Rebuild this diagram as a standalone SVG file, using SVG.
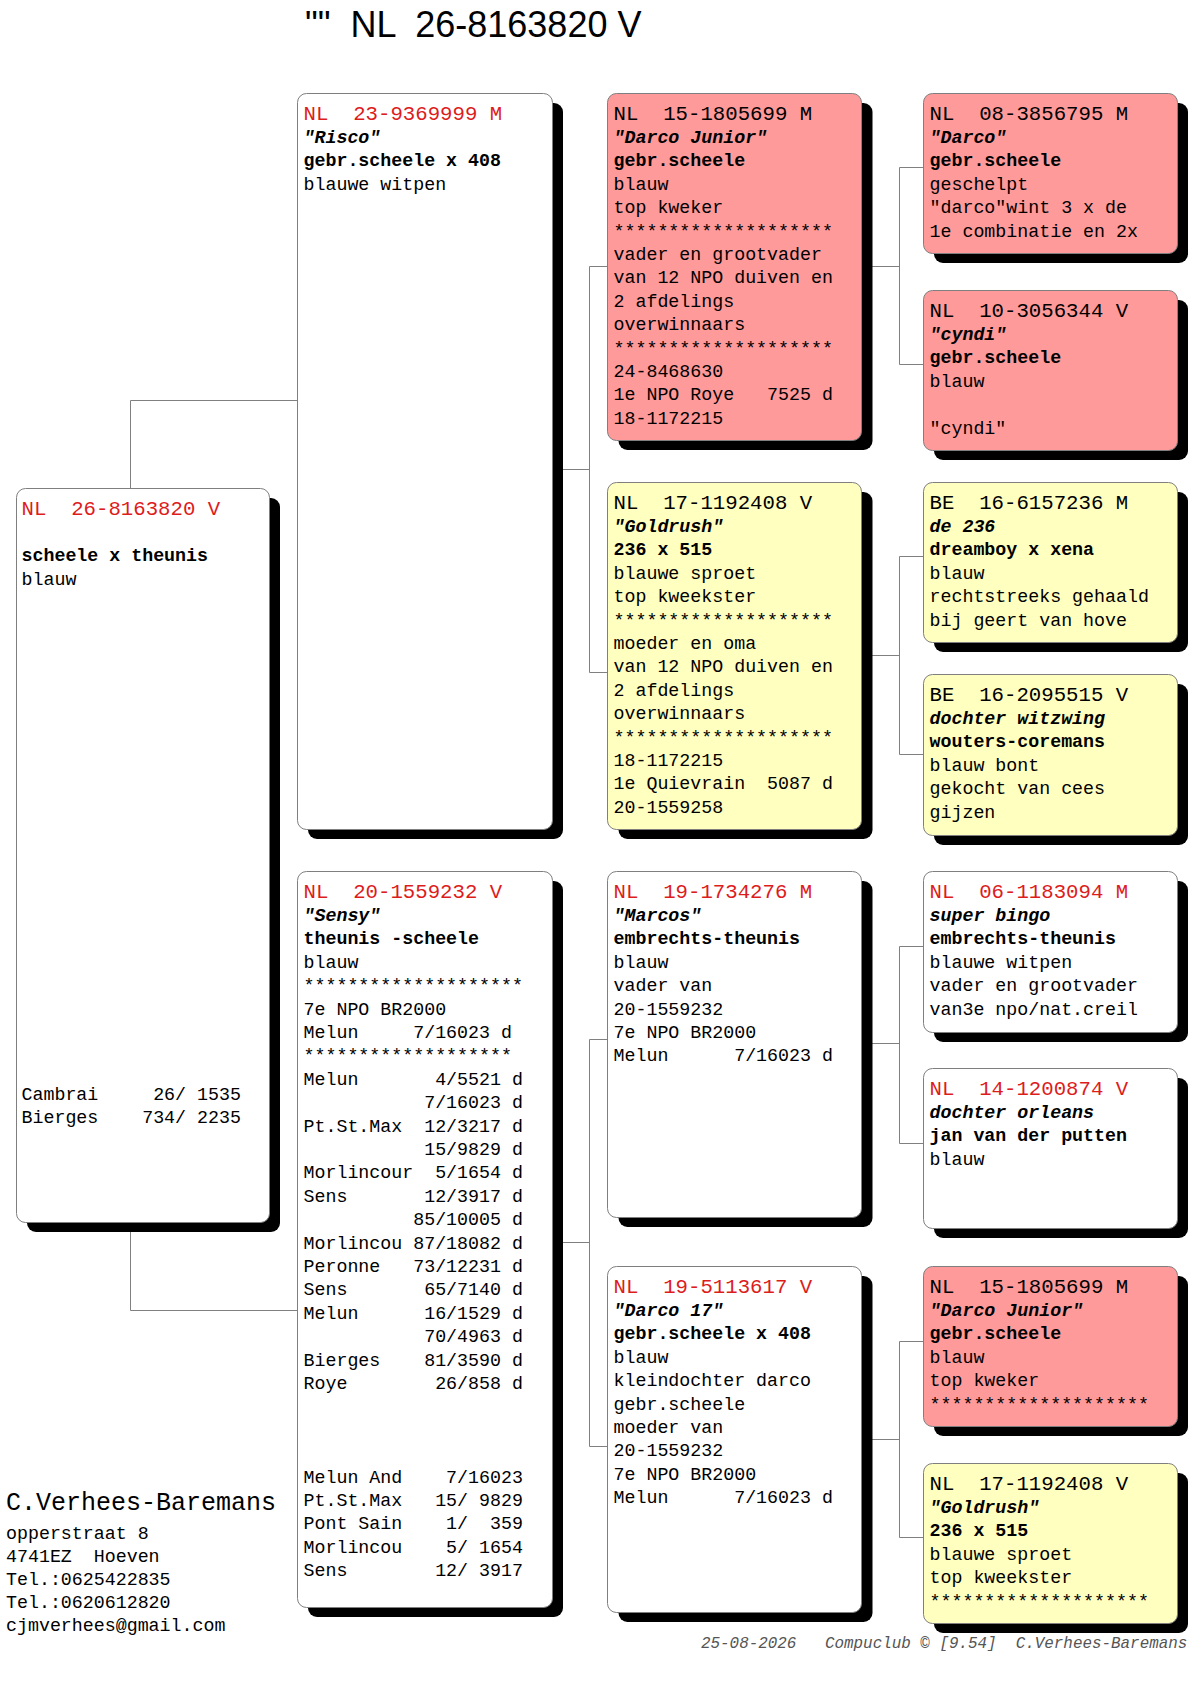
<svg xmlns="http://www.w3.org/2000/svg" width="1190" height="1683" viewBox="0 0 1190 1683">
<style>
.sh{fill:#000}
.bx{stroke:#7f7f7f;stroke-width:1}
.pk{fill:#FF9A9A}
.ye{fill:#FFFFBF}
.wh{fill:#FFFFFF}
text{font-family:"Liberation Mono","DejaVu Sans Mono",monospace;font-size:18.3px;fill:#000;white-space:pre}
.h{font-size:20.7px}
.r{fill:#DD1C1C}
.b{font-weight:bold}
.n{font-weight:bold;font-style:italic}
.con path{stroke:#808080;stroke-width:1;fill:none}
.title{font-family:"Liberation Sans",Arial,sans-serif;font-size:36px}
.ft{font-size:15.9px;font-style:italic;fill:#555}
.big{font-size:25px}
</style>
<rect width="1190" height="1683" fill="#fff"/>
<text class="title" x="305" y="37">""  NL  26-8163820 V</text>

<g class="con" id="connectors">
<path d="M130.5,400.5 V1310.5 M130.5,400.5 H297 M130.5,1310.5 H297"/>
<path d="M552,469.5 H589.5 M589.5,266.5 V672.5 M589.5,266.5 H607.5 M589.5,672.5 H607.5"/>
<path d="M552,1242.5 H589.5 M589.5,1039.5 V1446.5 M589.5,1039.5 H607.5 M589.5,1446.5 H607.5"/>
<path d="M861.5,266.5 H899.5 M899.5,167.5 V364.5 M899.5,167.5 H923 M899.5,364.5 H923"/>
<path d="M861.5,655.5 H899.5 M899.5,556.5 V754.5 M899.5,556.5 H923 M899.5,754.5 H923"/>
<path d="M861.5,1043.5 H899.5 M899.5,946.5 V1143.5 M899.5,946.5 H923 M899.5,1143.5 H923"/>
<path d="M861.5,1439.5 H899.5 M899.5,1341.5 V1537.5 M899.5,1341.5 H923 M899.5,1537.5 H923"/>
</g>

<g id="subject">
<rect class="sh" x="27" y="498" width="253" height="734" rx="9"/>
<rect class="bx wh" x="16.5" y="488.5" width="253" height="734" rx="9"/>
<text class="h r" x="21.5" y="514.5">NL  26-8163820 V</text>
<text class="b" x="21.5" y="561.3">scheele x theunis</text>
<text x="21.5" y="584.7">blauw</text>
<text x="21.5" y="1099.5">Cambrai     26/ 1535</text>
<text x="21.5" y="1122.9">Bierges    734/ 2235</text>
</g>

<g id="risco">
<rect class="sh" x="308" y="103" width="255" height="736" rx="9"/>
<rect class="bx wh" x="297.5" y="93.5" width="255" height="736" rx="9"/>
<text class="h r" x="303.5" y="119.5">NL  23-9369999 M</text>
<text class="n" x="303.5" y="142.9">"Risco"</text>
<text class="b" x="303.5" y="166.3">gebr.scheele x 408</text>
<text x="303.5" y="189.7">blauwe witpen</text>
</g>

<g id="sensy">
<rect class="sh" x="308" y="881" width="255" height="736" rx="9"/>
<rect class="bx wh" x="297.5" y="871.5" width="255" height="736" rx="9"/>
<text class="h r" x="303.5" y="897.5">NL  20-1559232 V</text>
<text class="n" x="303.5" y="920.9">"Sensy"</text>
<text class="b" x="303.5" y="944.3">theunis -scheele</text>
<text x="303.5" y="967.7">blauw</text>
<text x="303.5" y="991.1">********************</text>
<text x="303.5" y="1014.5">7e NPO BR2000</text>
<text x="303.5" y="1037.9">Melun     7/16023 d</text>
<text x="303.5" y="1061.3">*******************</text>
<text x="303.5" y="1084.7">Melun       4/5521 d</text>
<text x="303.5" y="1108.1">           7/16023 d</text>
<text x="303.5" y="1131.5">Pt.St.Max  12/3217 d</text>
<text x="303.5" y="1154.9">           15/9829 d</text>
<text x="303.5" y="1178.3">Morlincour  5/1654 d</text>
<text x="303.5" y="1201.7">Sens       12/3917 d</text>
<text x="303.5" y="1225.1">          85/10005 d</text>
<text x="303.5" y="1248.5">Morlincou 87/18082 d</text>
<text x="303.5" y="1271.9">Peronne   73/12231 d</text>
<text x="303.5" y="1295.3">Sens       65/7140 d</text>
<text x="303.5" y="1318.7">Melun      16/1529 d</text>
<text x="303.5" y="1342.1">           70/4963 d</text>
<text x="303.5" y="1365.5">Bierges    81/3590 d</text>
<text x="303.5" y="1388.9">Roye        26/858 d</text>
<text x="303.5" y="1482.5">Melun And    7/16023</text>
<text x="303.5" y="1505.9">Pt.St.Max   15/ 9829</text>
<text x="303.5" y="1529.3">Pont Sain    1/  359</text>
<text x="303.5" y="1552.7">Morlincou    5/ 1654</text>
<text x="303.5" y="1576.1">Sens        12/ 3917</text>
</g>

<g id="darco-junior">
<rect class="sh" x="618.5" y="103" width="254" height="347" rx="9"/>
<rect class="bx pk" x="607.5" y="93.5" width="254" height="347" rx="9"/>
<text class="h" x="613.5" y="119.5">NL  15-1805699 M</text>
<text class="n" x="613.5" y="142.9">"Darco Junior"</text>
<text class="b" x="613.5" y="166.3">gebr.scheele</text>
<text x="613.5" y="189.7">blauw</text>
<text x="613.5" y="213.1">top kweker</text>
<text x="613.5" y="236.5">********************</text>
<text x="613.5" y="259.9">vader en grootvader</text>
<text x="613.5" y="283.3">van 12 NPO duiven en</text>
<text x="613.5" y="306.7">2 afdelings</text>
<text x="613.5" y="330.1">overwinnaars</text>
<text x="613.5" y="353.5">********************</text>
<text x="613.5" y="376.9">24-8468630</text>
<text x="613.5" y="400.3">1e NPO Roye   7525 d</text>
<text x="613.5" y="423.7">18-1172215</text>
</g>

<g id="goldrush">
<rect class="sh" x="618.5" y="492" width="254" height="347" rx="9"/>
<rect class="bx ye" x="607.5" y="482.5" width="254" height="347" rx="9"/>
<text class="h" x="613.5" y="508.5">NL  17-1192408 V</text>
<text class="n" x="613.5" y="531.9">"Goldrush"</text>
<text class="b" x="613.5" y="555.3">236 x 515</text>
<text x="613.5" y="578.7">blauwe sproet</text>
<text x="613.5" y="602.1">top kweekster</text>
<text x="613.5" y="625.5">********************</text>
<text x="613.5" y="648.9">moeder en oma</text>
<text x="613.5" y="672.3">van 12 NPO duiven en</text>
<text x="613.5" y="695.7">2 afdelings</text>
<text x="613.5" y="719.1">overwinnaars</text>
<text x="613.5" y="742.5">********************</text>
<text x="613.5" y="765.9">18-1172215</text>
<text x="613.5" y="789.3">1e Quievrain  5087 d</text>
<text x="613.5" y="812.7">20-1559258</text>
</g>

<g id="marcos">
<rect class="sh" x="618.5" y="881" width="254" height="346" rx="9"/>
<rect class="bx wh" x="607.5" y="871.5" width="254" height="346" rx="9"/>
<text class="h r" x="613.5" y="897.5">NL  19-1734276 M</text>
<text class="n" x="613.5" y="920.9">"Marcos"</text>
<text class="b" x="613.5" y="944.3">embrechts-theunis</text>
<text x="613.5" y="967.7">blauw</text>
<text x="613.5" y="991.1">vader van</text>
<text x="613.5" y="1014.5">20-1559232</text>
<text x="613.5" y="1037.9">7e NPO BR2000</text>
<text x="613.5" y="1061.3">Melun      7/16023 d</text>
</g>

<g id="darco-17">
<rect class="sh" x="618.5" y="1276" width="254" height="346" rx="9"/>
<rect class="bx wh" x="607.5" y="1266.5" width="254" height="346" rx="9"/>
<text class="h r" x="613.5" y="1292.5">NL  19-5113617 V</text>
<text class="n" x="613.5" y="1315.9">"Darco 17"</text>
<text class="b" x="613.5" y="1339.3">gebr.scheele x 408</text>
<text x="613.5" y="1362.7">blauw</text>
<text x="613.5" y="1386.1">kleindochter darco</text>
<text x="613.5" y="1409.5">gebr.scheele</text>
<text x="613.5" y="1432.9">moeder van</text>
<text x="613.5" y="1456.3">20-1559232</text>
<text x="613.5" y="1479.7">7e NPO BR2000</text>
<text x="613.5" y="1503.1">Melun      7/16023 d</text>
</g>

<g id="darco">
<rect class="sh" x="934" y="103" width="254" height="160" rx="9"/>
<rect class="bx pk" x="923.5" y="93.5" width="254" height="160" rx="9"/>
<text class="h" x="929.5" y="119.5">NL  08-3856795 M</text>
<text class="n" x="929.5" y="142.9">"Darco"</text>
<text class="b" x="929.5" y="166.3">gebr.scheele</text>
<text x="929.5" y="189.7">geschelpt</text>
<text x="929.5" y="213.1">"darco"wint 3 x de</text>
<text x="929.5" y="236.5">1e combinatie en 2x</text>
</g>

<g id="cyndi">
<rect class="sh" x="934" y="300" width="254" height="160" rx="9"/>
<rect class="bx pk" x="923.5" y="290.5" width="254" height="160" rx="9"/>
<text class="h" x="929.5" y="316.5">NL  10-3056344 V</text>
<text class="n" x="929.5" y="339.9">"cyndi"</text>
<text class="b" x="929.5" y="363.3">gebr.scheele</text>
<text x="929.5" y="386.7">blauw</text>
<text x="929.5" y="433.5">"cyndi"</text>
</g>

<g id="de-236">
<rect class="sh" x="934" y="492" width="254" height="160" rx="9"/>
<rect class="bx ye" x="923.5" y="482.5" width="254" height="160" rx="9"/>
<text class="h" x="929.5" y="508.5">BE  16-6157236 M</text>
<text class="n" x="929.5" y="531.9">de 236</text>
<text class="b" x="929.5" y="555.3">dreamboy x xena</text>
<text x="929.5" y="578.7">blauw</text>
<text x="929.5" y="602.1">rechtstreeks gehaald</text>
<text x="929.5" y="625.5">bij geert van hove</text>
</g>

<g id="dochter-witzwing">
<rect class="sh" x="934" y="684" width="254" height="161" rx="9"/>
<rect class="bx ye" x="923.5" y="674.5" width="254" height="161" rx="9"/>
<text class="h" x="929.5" y="700.5">BE  16-2095515 V</text>
<text class="n" x="929.5" y="723.9">dochter witzwing</text>
<text class="b" x="929.5" y="747.3">wouters-coremans</text>
<text x="929.5" y="770.7">blauw bont</text>
<text x="929.5" y="794.1">gekocht van cees</text>
<text x="929.5" y="817.5">gijzen</text>
</g>

<g id="super-bingo">
<rect class="sh" x="934" y="881" width="254" height="161" rx="9"/>
<rect class="bx wh" x="923.5" y="871.5" width="254" height="161" rx="9"/>
<text class="h r" x="929.5" y="897.5">NL  06-1183094 M</text>
<text class="n" x="929.5" y="920.9">super bingo</text>
<text class="b" x="929.5" y="944.3">embrechts-theunis</text>
<text x="929.5" y="967.7">blauwe witpen</text>
<text x="929.5" y="991.1">vader en grootvader</text>
<text x="929.5" y="1014.5">van3e npo/nat.creil</text>
</g>

<g id="dochter-orleans">
<rect class="sh" x="934" y="1078" width="254" height="160" rx="9"/>
<rect class="bx wh" x="923.5" y="1068.5" width="254" height="160" rx="9"/>
<text class="h r" x="929.5" y="1094.5">NL  14-1200874 V</text>
<text class="n" x="929.5" y="1117.9">dochter orleans</text>
<text class="b" x="929.5" y="1141.3">jan van der putten</text>
<text x="929.5" y="1164.7">blauw</text>
</g>

<g id="darco-junior-2">
<rect class="sh" x="934" y="1276" width="254" height="160" rx="9"/>
<rect class="bx pk" x="923.5" y="1266.5" width="254" height="160" rx="9"/>
<text class="h" x="929.5" y="1292.5">NL  15-1805699 M</text>
<text class="n" x="929.5" y="1315.9">"Darco Junior"</text>
<text class="b" x="929.5" y="1339.3">gebr.scheele</text>
<text x="929.5" y="1362.7">blauw</text>
<text x="929.5" y="1386.1">top kweker</text>
<text x="929.5" y="1409.5">********************</text>
</g>

<g id="goldrush-2">
<rect class="sh" x="934" y="1473" width="254" height="160" rx="9"/>
<rect class="bx ye" x="923.5" y="1463.5" width="254" height="160" rx="9"/>
<text class="h" x="929.5" y="1489.5">NL  17-1192408 V</text>
<text class="n" x="929.5" y="1512.9">"Goldrush"</text>
<text class="b" x="929.5" y="1536.3">236 x 515</text>
<text x="929.5" y="1559.7">blauwe sproet</text>
<text x="929.5" y="1583.1">top kweekster</text>
<text x="929.5" y="1606.5">********************</text>
</g>

<g id="owner">
<text class="big" x="6" y="1510">C.Verhees-Baremans</text>
<text x="6" y="1539">opperstraat 8</text>
<text x="6" y="1562">4741EZ  Hoeven</text>
<text x="6" y="1585">Tel.:0625422835</text>
<text x="6" y="1608">Tel.:0620612820</text>
<text x="6" y="1631">cjmverhees@gmail.com</text>
</g>
<text class="ft" x="701" y="1648">25-08-2026   Compuclub © [9.54]  C.Verhees-Baremans</text>
</svg>
